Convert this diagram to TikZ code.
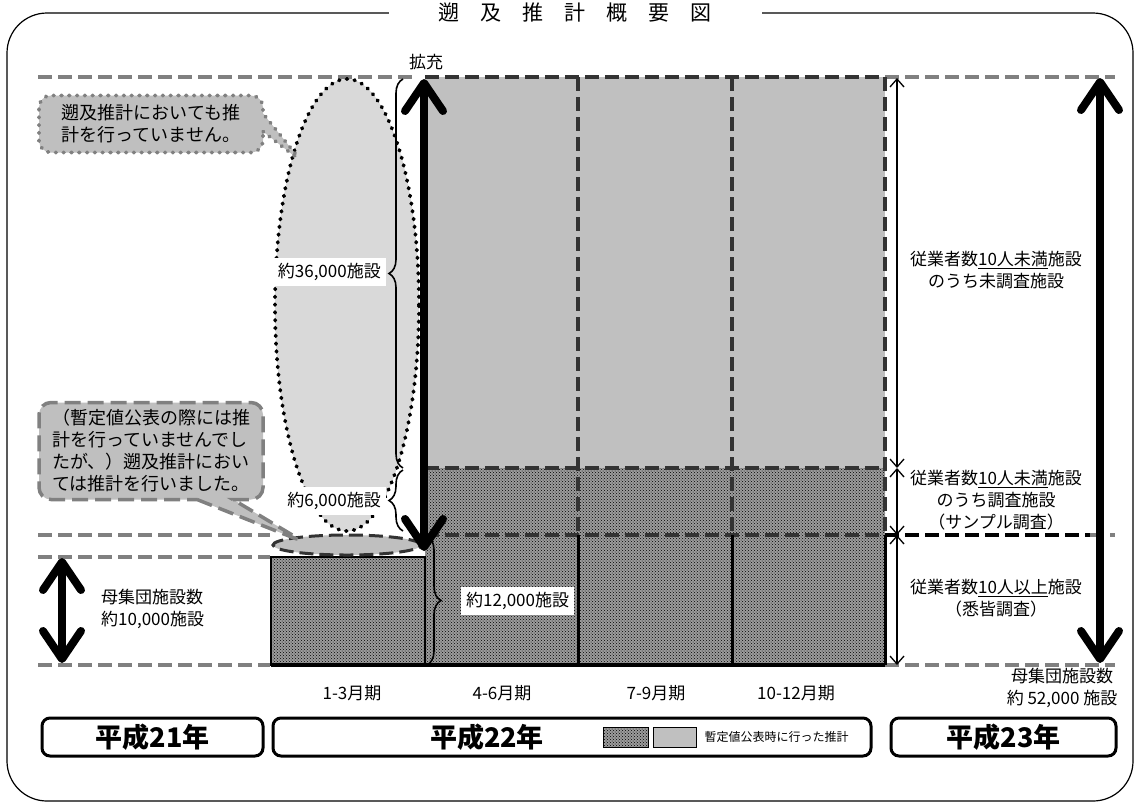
\documentclass[tikz,border=0pt]{standalone}
\usepackage{fontspec}
\setmainfont{Noto Sans CJK JP}
\usepackage{tikz}
\usetikzlibrary{arrows.meta}
\usetikzlibrary{patterns,decorations.pathreplacing,shapes.callouts,positioning}
\definecolor{guidegray}{HTML}{808080}
\definecolor{celldark}{HTML}{333333}
\definecolor{lightcell}{HTML}{C0C0C0}
\definecolor{ovalfill}{HTML}{D9D9D9}
\definecolor{bubblefill}{HTML}{BFBFBF}
\definecolor{patbase}{HTML}{9C9C9C}

\begin{document}
\begin{tikzpicture}[x=1pt,y=-1pt]
  \tikzset{guide/.style = {draw=guidegray, line width=3.5pt, dash pattern=on 14pt off 6pt}}
  \tikzset{celldash/.style = {draw=celldark, line width=3.5pt, dash pattern=on 14pt off 6pt}}
  \tikzset{dotcell/.style = {preaction={fill=patbase}, pattern=crosshatch dots, pattern color=black}}
  \tikzset{txt/.style = {font=\fontsize{17}{22}\selectfont, inner sep=3pt, align=center}}
  \tikzset{lbl/.style = {txt, fill=white, inner sep=5pt}}
  \tikzset{brc/.style = {decorate, decoration={brace, amplitude=14pt}, line width=1.6pt}}
  \tikzset{bigarrow/.style = {line width=8pt, {Straight Barb[length=28pt,width=38pt,round]}-{Straight Barb[length=28pt,width=38pt,round]}}}
  \tikzset{thinarrow/.style = {line width=1.3pt, {Straight Barb[length=8pt,width=14pt]}-{Straight Barb[length=8pt,width=14pt]}}}
  \tikzset{yearbox/.style = {draw, line width=3pt, rounded corners=8pt, minimum height=38pt}}
  \tikzset{year/.style = {font=\fontsize{27}{30}\selectfont\bfseries}}
  \tikzset{bubble/.style = {rectangle callout, rounded corners=12pt, fill=bubblefill, font=\fontsize{18}{22}\selectfont, align=left}}
  \tikzset{beads/.style = {line width=3.8pt, dash pattern=on 0.8pt off 7pt, line cap=round}}

  \useasboundingbox (0,0) rectangle (1140,807);

  % frame and title
  \draw[line width=1.2pt, rounded corners=40pt] (7,13) rectangle (1133,801);
  \node[fill=white, inner xsep=50pt, font=\fontsize{21}{24}\selectfont] (title) at (575,13)
    {遡\hspace{1em}及\hspace{1em}推\hspace{1em}計\hspace{1em}概\hspace{1em}要\hspace{1em}図};

  % estimated cells
  \fill[lightcell] (425,77) rectangle (885,468);
  \path[dotcell] (425,468) rectangle (885,665);
  \draw[dotcell, line width=2.5pt] (271,665) -- (271,557) -- (425,557) -- (425,665) -- cycle;

  % guide lines
  \foreach \ya/\xa/\xb in {77/38/418, 77/885/1115, 535/38/270, 557/38/270, 665/38/270, 665/885/1115, 535/1090/1115}
    \draw[guide] (\xa,\ya) -- (\xb,\ya);
  \foreach \ya in {77, 468, 535}
    \draw[celldash] (425,\ya) -- (885,\ya);
  \foreach \xa in {578, 732, 885}
    \draw[celldash] (\xa,77) -- (\xa,535);
  \foreach \xa in {578, 732, 885}
    \draw[line width=3pt] (\xa,535) -- (\xa,665);
  \draw[line width=2pt] (425,557) -- (425,665);
  \draw[line width=3.5pt] (271,665) -- (885,665);
  \draw[line width=3.5pt, dash pattern=on 14pt off 6pt] (885,535) -- (1090,535);

  % ovals
  \draw[fill=ovalfill, beads] (347,305) ellipse [x radius=72pt, y radius=226pt];
  \draw[fill=bubblefill, draw=celldark, line width=3pt, dash pattern=on 14pt off 6pt] (347,545) ellipse [x radius=74pt, y radius=10pt];

  % callouts
  \coordinate (tipU) at (302,162);
  \coordinate (tipL) at (304,542);
  \node[bubble, draw=guidegray, beads,
        minimum width=224pt, minimum height=57pt, callout pointer width=18pt,
        callout absolute pointer={(tipU)}] (noest) at (151,124)
    {遡及推計においても推\\計を行っていません。};
  \node[bubble, draw=guidegray, line width=3.5pt, dash pattern=on 16pt off 7pt,
        minimum width=224pt, minimum height=97pt, callout pointer width=36pt,
        callout absolute pointer={(tipL)}] (newest) at (151,451)
    {（暫定値公表の際には推\\計を行っていませんでし\\たが、）遡及推計におい\\ては推計を行いました。};

  % braces
  \coordinate (b1s) at (403,468);
  \coordinate (b1e) at (403,79);
  \coordinate (b2s) at (403,531);
  \coordinate (b2e) at (403,470);
  \coordinate (b3s) at (427,536);
  \coordinate (b3e) at (427,665);
  \foreach \from/\to in {b1s/b1e, b2s/b2e, b3s/b3e}
    \draw[brc] (\from) -- (\to);
  \node[lbl, anchor=east] (n36) at (386,272) {約36,000施設};
  \node[lbl, anchor=east] (n6) at (386,501) {約6,000施設};
  \node[lbl, anchor=west] (n12) at (461,601) {約12,000施設};

  % arrows
  \coordinate (expTop) at (424,79);
  \coordinate (expBot) at (424,551);
  \coordinate (popL1) at (62,558);
  \coordinate (popL2) at (62,663);
  \coordinate (popR1) at (1100,78);
  \coordinate (popR2) at (1100,663);
  \foreach \from/\to in {expBot/expTop, popL2/popL1, popR1/popR2}
    \draw[bigarrow] (\from) -- (\to);
  \coordinate (r0) at (897,78);
  \coordinate (r1) at (897,468);
  \coordinate (r2) at (897,535);
  \coordinate (r3) at (897,665);
  \foreach \from/\to in {r0/r1, r1/r2, r2/r3}
    \draw[thinarrow] (\from) -- (\to);

  % texts
  \node[txt] (expand) at (426,62) {拡充};
  \node[txt, anchor=west, align=left] (popA) at (98,609) {母集団施設数\\約10,000施設};
  \node[txt] (unsurv) at (996,270) {従業者数\underline{10人未満}施設\\のうち未調査施設};
  \node[txt] (sample) at (996,500) {従業者数\underline{10人未満}施設\\のうち調査施設\\（サンプル調査）};
  \node[txt] (census) at (996,598) {従業者数\underline{10人以上}施設\\（悉皆調査）};
  \node[txt] (popB) at (1062,688) {母集団施設数\\約 52,000 施設};
  \foreach \xa/\q in {352/1-3月期, 502/4-6月期, 656/7-9月期, 796/10-12月期}
    \node[txt] at (\xa,693) {\q};

  % years
  \node[yearbox, minimum width=221pt] (y21) at (152.5,737) {};
  \node[yearbox, minimum width=598pt] (y22) at (572,737) {};
  \node[yearbox, minimum width=225pt] (y23) at (1003.5,737) {};
  \node[year] at (y21) {平成21年};
  \node[year] at (487,737) {平成22年};
  \node[year] at (y23) {平成23年};
  \node[dotcell, draw, line width=1pt, minimum width=45pt, minimum height=20pt] (legA) at (626,737) {};
  \node[fill=lightcell, draw, line width=1pt, minimum width=43pt, minimum height=20pt, right=4pt of legA] (legB) {};
  \node[font=\fontsize{12}{14}\selectfont, right=4pt of legB] (legT) {暫定値公表時に行った推計};
\end{tikzpicture}
\end{document}
